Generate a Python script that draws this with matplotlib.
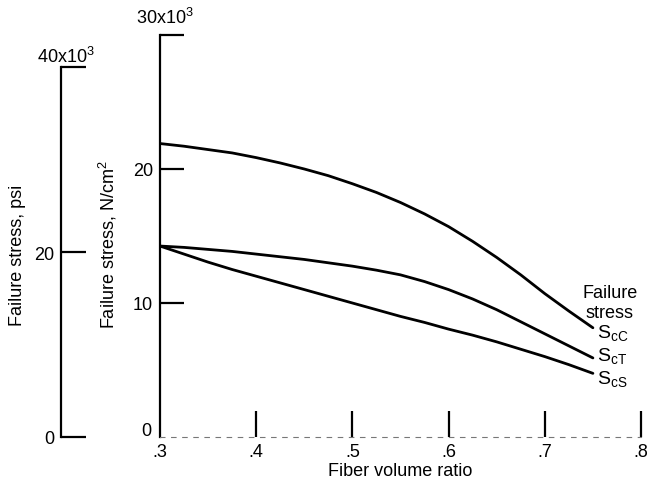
import numpy as np
import matplotlib
matplotlib.use('Agg')
import matplotlib.pyplot as plt

plt.rcParams['font.family'] = ['Liberation Sans', 'DejaVu Sans']

# fiber volume ratio vs failure stress (thousands of N/cm^2)
fiber_ratio = [0.300, 0.325, 0.350, 0.375, 0.400, 0.425, 0.450, 0.475, 0.500, 0.525,
               0.550, 0.575, 0.600, 0.625, 0.650, 0.675, 0.700, 0.725, 0.750]
s_cc = [21.9, 21.7, 21.45, 21.2, 20.85, 20.45, 20.0, 19.5, 18.9, 18.25,
        17.5, 16.65, 15.7, 14.6, 13.4, 12.1, 10.7, 9.4, 8.15]
s_ct = [14.25, 14.15, 14.0, 13.85, 13.65, 13.45, 13.25, 13.0, 12.75, 12.45,
        12.1, 11.6, 11.0, 10.3, 9.5, 8.6, 7.7, 6.8, 5.9]
s_cs = [14.25, 13.65, 13.05, 12.5, 12.0, 11.5, 11.0, 10.5, 10.0, 9.5,
        9.0, 8.55, 8.05, 7.6, 7.1, 6.55, 6.0, 5.4, 4.75]
curve_names = ['$\\mathregular{S_{cC}}$', '$\\mathregular{S_{cT}}$', '$\\mathregular{S_{cS}}$']

x_ticks = [0.3, 0.4, 0.5, 0.6, 0.7, 0.8]
x_ticklabels = ['.3', '.4', '.5', '.6', '.7', '.8']
y_ticks = [0, 10, 20, 30]
psi_ticks = [0, 20, 40]
psi_per_ncm2 = 1 / 0.68948

W, H = 647, 489
fig = plt.figure(figsize=(W / 100, H / 100), dpi=100)

def px(x, y):
    return x / W, 1 - y / H

ax = fig.add_axes([160 / W, 51 / H, 481 / W, 402 / H])
for y in [s_cc, s_ct, s_cs]:
    ax.plot(fiber_ratio, y, color='black', lw=2.0, solid_capstyle='round',
            solid_joinstyle='round')

ax.set_xlim(0.3, 0.8)
ax.set_ylim(0, 30)
ax.spines['top'].set_visible(False)
ax.spines['right'].set_visible(False)
ax.spines['left'].set_linewidth(1.6)
ax.spines['bottom'].set_linewidth(0.8)
ax.spines['bottom'].set_color('#777777')
ax.spines['bottom'].set_linestyle((0, (4, 6)))
ax.set_xticks(x_ticks[1:])
ax.set_xticklabels([])
ax.tick_params(axis='x', direction='in', length=19, width=1.6)
ax.set_yticks(y_ticks[1:])
ax.set_yticklabels(['10', '20', ''])
ax.tick_params(axis='y', direction='in', length=17, width=1.6, pad=5, labelsize=13)

for xv, lab in zip(x_ticks, x_ticklabels):
    xf = ax.transData.transform((xv, 0))[0] / W
    fig.text(xf, 1 - 453 / H, lab, ha='center', va='center', fontsize=13)
fig.text(*px(151, 432), '0', ha='right', va='center', fontsize=13)
fig.text(*px(136, 18), '30x10$\\mathregular{^3}$', ha='left', va='center', fontsize=13)
fig.text(*px(400, 472), 'Fiber volume ratio', ha='center', va='center', fontsize=13)
fig.text(*px(108, 245), 'Failure stress, N/cm$\\mathregular{^2}$', ha='center', va='center',
         rotation=90, fontsize=13)

# right-side curve labels
fig.text(*px(610, 294), 'Failure', ha='center', va='center', fontsize=13)
fig.text(*px(610, 313), 'stress', ha='center', va='center', fontsize=13)
for yp, name in zip([333, 356, 379], curve_names):
    fig.text(*px(597, yp), name, ha='left', va='center', fontsize=14)

# psi scale
ax2 = fig.add_axes([61 / W, 51 / H, 0.01, 402 / H])
ax2.set_ylim(0, 30 * psi_per_ncm2)
ax2.set_xlim(0, 1)
for s in ['top', 'right', 'bottom']:
    ax2.spines[s].set_visible(False)
ax2.spines['left'].set_bounds(0, 40)
ax2.spines['left'].set_linewidth(1.6)
ax2.patch.set_visible(False)
ax2.set_xticks([])
ax2.set_yticks(psi_ticks)
ax2.set_yticklabels(['0', '20', ''])
ax2.tick_params(axis='y', direction='in', length=18, width=1.6, pad=5, labelsize=13)
fig.text(*px(37, 57), '40x10$\\mathregular{^3}$', ha='left', va='center', fontsize=13)
fig.text(*px(18, 255), 'Failure stress, psi', ha='center', va='center', rotation=90, fontsize=13)

fig.savefig('out.png', dpi=100)
